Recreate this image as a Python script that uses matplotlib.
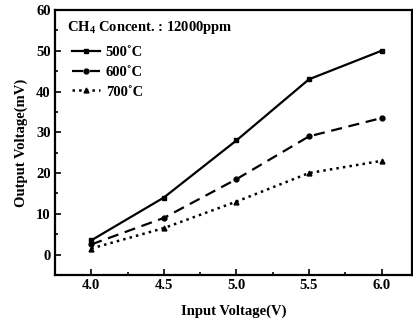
import matplotlib
matplotlib.use("Agg")
import matplotlib.pyplot as plt
from matplotlib.ticker import MultipleLocator

plt.rcParams['font.family'] = ['Liberation Serif', 'DejaVu Serif']
plt.rcParams['font.weight'] = 'bold'
plt.rcParams['mathtext.fontset'] = 'custom'
plt.rcParams['mathtext.rm'] = 'Liberation Serif:bold'
plt.rcParams['mathtext.bf'] = 'Liberation Serif:bold'

x = [4.0, 4.5, 5.0, 5.5, 6.0]
v500 = [3.5, 14.0, 28.0, 43.0, 50.0]
v600 = [2.5, 9.0, 18.5, 29.0, 33.5]
v700 = [1.5, 6.5, 13.0, 20.0, 23.0]
labels = ['500\u02daC', '600\u02daC', '700\u02daC']

fig = plt.figure(figsize=(4.13, 3.26), dpi=100)
ax = fig.add_axes([55/413, 1-275/326, (413-56)/413, (275-10)/326])

ax.plot(x, v500, '-', color='black', lw=1.6, marker='s', ms=3.5, label=labels[0])
ax.plot(x, v600, '--', color='black', lw=1.6, marker='o', ms=3.5, dashes=(5, 3), label=labels[1])
ax.plot(x, v700, ':', color='black', lw=1.8, marker='^', ms=3.5, label=labels[2])

ax.set_xlim(3.75, 6.21)
ax.set_ylim(-5, 60)
ax.xaxis.set_major_locator(MultipleLocator(0.5))
ax.xaxis.set_minor_locator(MultipleLocator(0.25))
ax.yaxis.set_major_locator(MultipleLocator(10))
ax.yaxis.set_minor_locator(MultipleLocator(5))
ax.tick_params(which='both', direction='in', labelsize=10.5, width=1.2, pad=3)
ax.tick_params(which='major', length=4)
ax.tick_params(which='minor', length=2)
ax.set_xticks([4.0, 4.5, 5.0, 5.5, 6.0])
ax.set_xticklabels(['4.0', '4.5', '5.0', '5.5', '6.0'])
for s in ax.spines.values():
    s.set_linewidth(1.6)

ax.set_xlabel('Input Voltage(V)', fontsize=10.5, fontweight='bold', labelpad=9)
ax.set_ylabel('Output Voltage(mV)', fontsize=10.5, fontweight='bold', labelpad=6)

ax.text(0.035, 0.935, 'CH$_4$ Concent. : 12000ppm', transform=ax.transAxes,
        fontsize=10.5, fontweight='bold', va='center')
leg = ax.legend(loc='upper left', bbox_to_anchor=(0.048, 0.865), frameon=False,
                fontsize=10.5, handlelength=1.9, handletextpad=0.4, labelspacing=0.45,
                borderaxespad=0.0, borderpad=0.0)

fig.savefig('out.png', dpi=100)
